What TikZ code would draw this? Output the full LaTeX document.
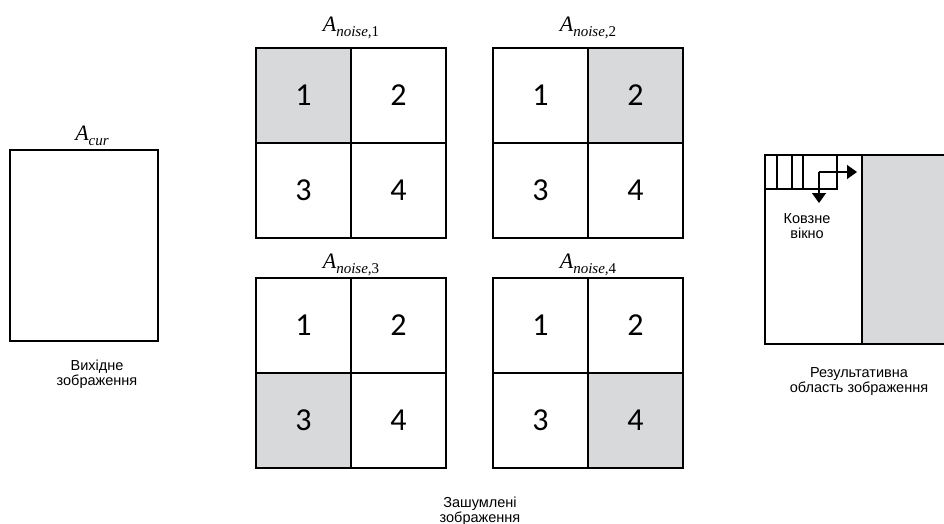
\documentclass[tikz,border=0pt]{standalone}
\usepackage{fontspec}
\setmainfont{Liberation Sans}
\newfontfamily\celldigits{Carlito}
\newfontfamily\titleserif{Liberation Serif}
\usetikzlibrary{positioning, arrows.meta}
\definecolor{cellgray}{RGB}{216,217,219}
\newcommand{\imgname}[1]{A\raisebox{-5pt}{\fontsize{15}{15}\selectfont #1}}
\tikzset{
    mycell/.style = {
        rectangle,
        draw=black,
        line width=1.7pt,
        minimum size=95pt,
        inner sep=0pt,
        outer sep=0pt,
        font=\celldigits\fontsize{32}{32}\selectfont
    },
    mygray/.style = {
        mycell,
        fill=cellgray
    },
    myframe/.style = {
        rectangle,
        draw=black,
        line width=1.7pt,
        inner sep=0pt,
        outer sep=0pt
    },
    mywin/.style = {
        rectangle,
        draw=black,
        line width=1.2pt,
        minimum height=34pt,
        inner sep=0pt,
        outer sep=0pt
    },
    mytitle/.style = {
        anchor=base,
        inner sep=0pt,
        font=\titleserif\itshape\fontsize{22}{22}\selectfont
    },
    mycaption/.style = {
        align=center,
        font=\fontsize{14.5}{15}\selectfont
    },
    myarrow/.style = {
        line width=1.4pt,
        -{Triangle[length=10pt, width=14pt]}
    }
}

\begin{document}
\begin{tikzpicture}[x=1pt, y=-1pt]
\useasboundingbox (0,0) rectangle (944,524);

% Vihidne zobrazhennia
\node (cur) [myframe, minimum width=148pt, minimum height=191pt] at (84,245.5) {};
\node (curtitle) [mytitle] at (92,140) {\imgname{cur}};
\node (curtext) [mycaption] at (97,374.5) {Вихідне\\зображення};

% Zashumleni zobrazhennia
\node (g1a) [mygray] at (303.5,95.5) {1};
\node (g1b) [mycell, right=0pt of g1a] {2};
\node (g1c) [mycell, below=0pt of g1a] {3};
\node (g1d) [mycell, right=0pt of g1c] {4};
\node (g1title) [mytitle] at (351,32) {\imgname{noise,\upshape 1}};

\node (g2a) [mycell] at (540.5,95.5) {1};
\node (g2b) [mygray, right=0pt of g2a] {2};
\node (g2c) [mycell, below=0pt of g2a] {3};
\node (g2d) [mycell, right=0pt of g2c] {4};
\node (g2title) [mytitle] at (588,32) {\imgname{noise,\upshape 2}};

\node (g3a) [mycell] at (303.5,325.5) {1};
\node (g3b) [mycell, right=0pt of g3a] {2};
\node (g3c) [mygray, below=0pt of g3a] {3};
\node (g3d) [mycell, right=0pt of g3c] {4};
\node (g3title) [mytitle] at (351,268) {\imgname{noise,\upshape 3}};

\node (g4a) [mycell] at (540.5,325.5) {1};
\node (g4b) [mycell, right=0pt of g4a] {2};
\node (g4c) [mycell, below=0pt of g4a] {3};
\node (g4d) [mygray, right=0pt of g4c] {4};
\node (g4title) [mytitle] at (588,268) {\imgname{noise,\upshape 4}};

\node (noisetext) [mycaption] at (480,511) {Зашумлені\\зображення};

% Rezultatyvna oblast
\node (result) [myframe, minimum width=97pt, minimum height=189pt] at (813.5,249.5) {};
\node (resgray) [myframe, fill=cellgray, minimum width=84pt, minimum height=189pt, right=0pt of result] {};
\node (restext) [mycaption] at (859,382) {Результативна\\область зображення};

% Kovzne vikno
\node (w1) [mywin, minimum width=12pt, anchor=north west] at (result.north west) {};
\node (w2) [mywin, minimum width=15pt, right=0pt of w1] {};
\node (w3) [mywin, minimum width=11pt, right=0pt of w2] {};
\node (w4) [mywin, minimum width=34pt, right=0pt of w3] {};
\coordinate (wincorner) at (819,172);
\coordinate (winright) at (857,172);
\coordinate (windown) at (819,203);
\draw [myarrow] (wincorner) -- (winright);
\draw [myarrow] (wincorner) -- (windown);
\node (wintext) [mycaption] at (807,226.5) {Ковзне\\вікно};

\end{tikzpicture}
\end{document}
